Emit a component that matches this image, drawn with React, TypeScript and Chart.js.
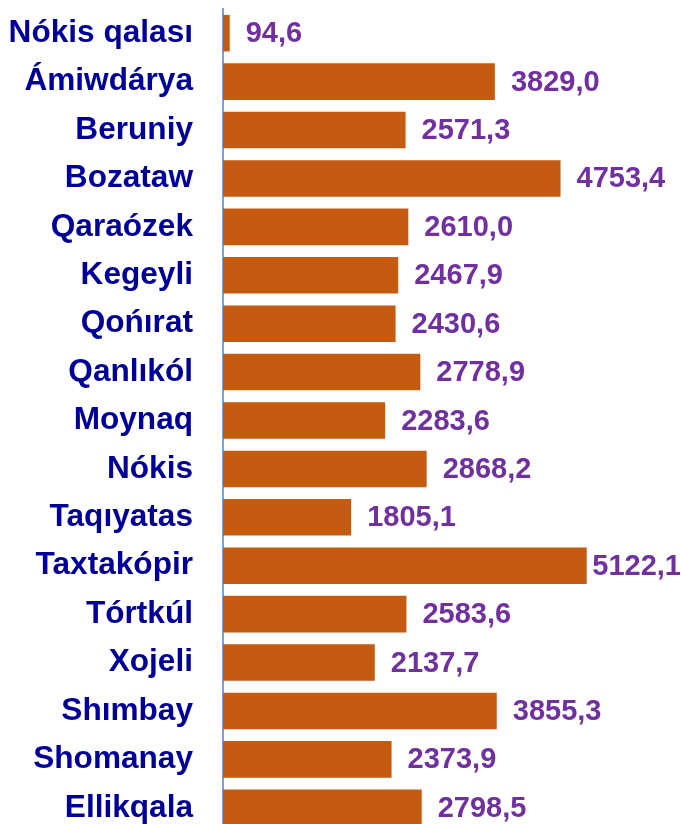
import React, { useEffect, useRef } from "react";
import { Chart, registerables } from "chart.js";

Chart.register(...registerables);

const categories = [
  "Nókis qalası",
  "Ámiwdárya",
  "Beruniy",
  "Bozataw",
  "Qaraózek",
  "Kegeyli",
  "Qońırat",
  "Qanlıkól",
  "Moynaq",
  "Nókis",
  "Taqıyatas",
  "Taxtakópir",
  "Tórtkúl",
  "Xojeli",
  "Shımbay",
  "Shomanay",
  "Ellikqala",
];

const values = [
  94.6, 3829.0, 2571.3, 4753.4, 2610.0, 2467.9, 2430.6, 2778.9, 2283.6, 2868.2,
  1805.1, 5122.1, 2583.6, 2137.7, 3855.3, 2373.9, 2798.5,
];

const FONT = "'Liberation Sans', Arial, sans-serif";

const valueLabels = {
  id: "valueLabels",
  afterDatasetsDraw(chart: any) {
    const ctx = chart.ctx;
    const meta = chart.getDatasetMeta(0);
    ctx.save();
    ctx.font = `bold 29px ${FONT}`;
    ctx.fillStyle = "#7030A0";
    ctx.textBaseline = "middle";
    ctx.textAlign = "left";
    meta.data.forEach((bar: any, i: number) => {
      const text = values[i].toFixed(1).replace(".", ",");
      const w = ctx.measureText(text).width;
      let x = bar.x + 16;
      if (x + w > chart.width) x = chart.width - w;
      ctx.fillText(text, x, bar.y + 1);
    });
    ctx.restore();
  },
};

export default function App() {
  const canvasRef = useRef<HTMLCanvasElement | null>(null);

  useEffect(() => {
    if (!canvasRef.current) return;
    const chart = new Chart(canvasRef.current, {
      type: "bar",
      data: {
        labels: categories,
        datasets: [
          {
            data: values,
            backgroundColor: "#C55A11",
            borderWidth: 0,
            categoryPercentage: 1,
            barPercentage: 0.755,
          },
        ],
      },
      options: {
        indexAxis: "y",
        animation: false,
        responsive: true,
        maintainAspectRatio: false,
        layout: { padding: { top: 9, right: 0, bottom: 0, left: 0 } },
        plugins: {
          legend: { display: false },
          tooltip: { enabled: false },
        },
        scales: {
          x: {
            display: false,
            min: 0,
            max: 6450,
          },
          y: {
            grid: { display: false, drawTicks: false },
            border: { display: true, color: "#7F9FD8", width: 2 },
            ticks: {
              color: "#000099",
              padding: 30,
              font: { family: FONT, size: 31.6, weight: "bold" },
              autoSkip: false,
            },
            afterFit(scale: any) {
              scale.width = 223;
              scale.paddingTop = 0;
              scale.paddingBottom = 0;
            },
          },
        },
      },
      plugins: [valueLabels],
    });
    return () => chart.destroy();
  }, []);

  return (
    <div
      style={{
        position: "fixed",
        left: 0,
        top: 0,
        width: 681,
        height: 824,
        overflow: "hidden",
        background: "#ffffff",
      }}
    >
      <div style={{ position: "relative", width: 681, height: 832 }}>
        <canvas ref={canvasRef} />
      </div>
    </div>
  );
}
